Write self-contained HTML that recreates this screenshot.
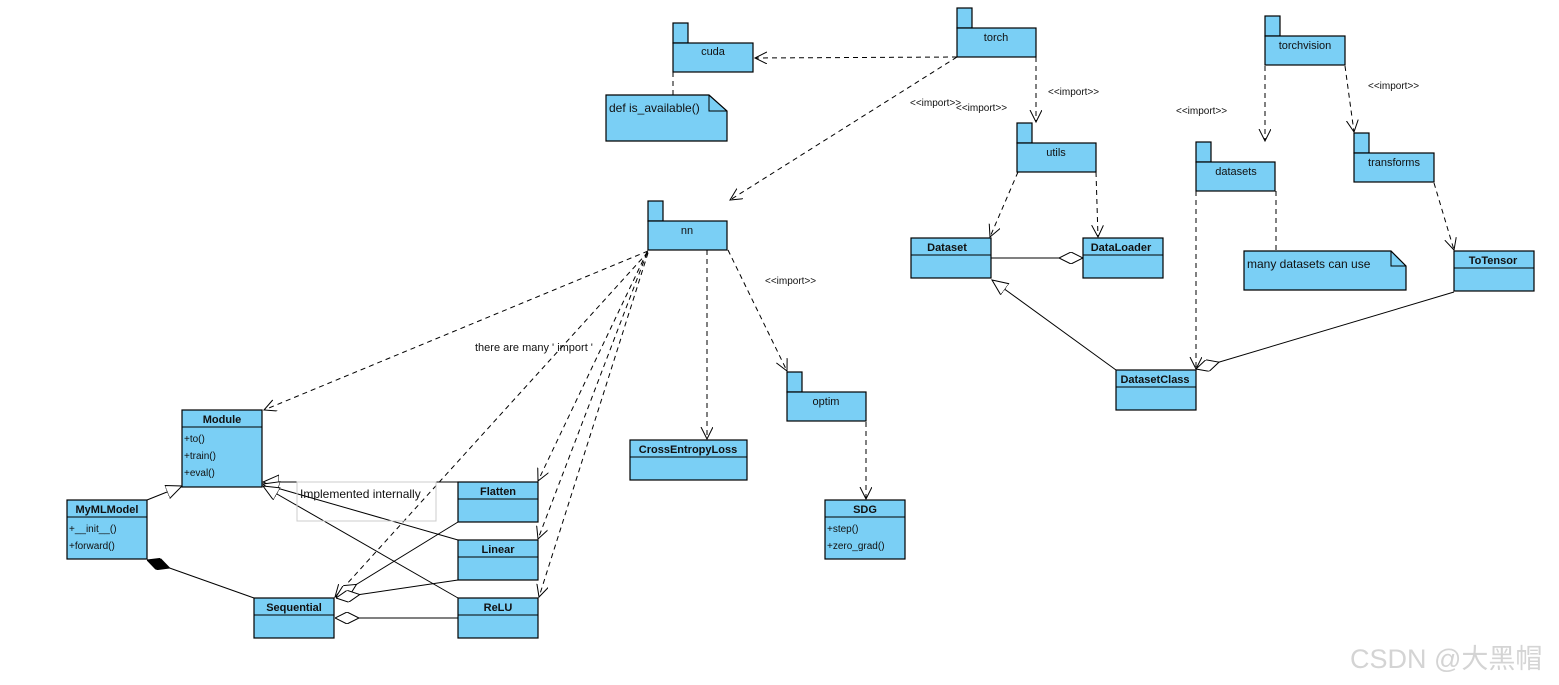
<!DOCTYPE html>
<html><head><meta charset="utf-8"><style>
html,body{margin:0;padding:0;background:#fff;}
svg{display:block;}
text{font-family:"Liberation Sans","DejaVu Sans",sans-serif;fill:#111;}
.b{font-weight:bold;font-size:11px;}
.n{font-size:11px;}
.s{font-size:10px;}
.box{fill:#7ACFF5;stroke:#000;stroke-width:1.2;}
.d{fill:none;stroke:#000;stroke-width:1;stroke-dasharray:5,4;}
.l{fill:none;stroke:#000;stroke-width:1;}
</style></head><body>
<svg width="1559" height="685" viewBox="0 0 1559 685" xmlns="http://www.w3.org/2000/svg">
<defs>
<marker id="oa" markerWidth="14" markerHeight="14" refX="12" refY="6" orient="auto" markerUnits="userSpaceOnUse"><path d="M0,0 L12,6 L0,12" fill="none" stroke="#000" stroke-width="1"/></marker>
<marker id="tri" markerWidth="18" markerHeight="16" refX="16" refY="7" orient="auto" markerUnits="userSpaceOnUse"><path d="M0,0 L16,7 L0,14 Z" fill="#fff" stroke="#000" stroke-width="1"/></marker>
<marker id="dia" markerWidth="26" markerHeight="12" refX="0" refY="6" orient="auto" markerUnits="userSpaceOnUse"><path d="M0,6 L12,0 L24,6 L12,12 Z" fill="#fff" stroke="#000" stroke-width="1"/></marker>
<marker id="fdia" markerWidth="26" markerHeight="12" refX="0" refY="6" orient="auto" markerUnits="userSpaceOnUse"><path d="M0,6 L12,0 L24,6 L12,12 Z" fill="#000" stroke="#000" stroke-width="1"/></marker>
</defs>

<!-- edges -->
<line class="d" x1="957" y1="57" x2="755" y2="58" marker-end="url(#oa)"/>
<line class="d" x1="957" y1="57" x2="730" y2="200" marker-end="url(#oa)"/>
<line class="d" x1="1036" y1="57" x2="1036" y2="122" marker-end="url(#oa)"/>
<line class="d" x1="1018" y1="172" x2="990" y2="237" marker-end="url(#oa)"/>
<line class="d" x1="1096" y1="172" x2="1098" y2="237" marker-end="url(#oa)"/>
<line class="d" x1="673" y1="72" x2="673" y2="95"/>
<line class="d" x1="1196" y1="191" x2="1196" y2="369" marker-end="url(#oa)"/>
<line class="d" x1="1276" y1="191" x2="1276" y2="251"/>
<line class="d" x1="1265" y1="66" x2="1265" y2="141" marker-end="url(#oa)"/>
<line class="d" x1="1345" y1="66" x2="1354" y2="132" marker-end="url(#oa)"/>
<line class="d" x1="1434" y1="183" x2="1454" y2="250" marker-end="url(#oa)"/>
<line class="d" x1="707" y1="250" x2="707" y2="439" marker-end="url(#oa)"/>
<line class="d" x1="728" y1="250" x2="787" y2="371" marker-end="url(#oa)"/>
<line class="d" x1="866" y1="422" x2="866" y2="499" marker-end="url(#oa)"/>
<line class="d" x1="648" y1="251" x2="264" y2="410" marker-end="url(#oa)"/>
<line class="d" x1="648" y1="252" x2="335" y2="597" marker-end="url(#oa)"/>
<line class="d" x1="647" y1="252" x2="538" y2="481" marker-end="url(#oa)"/>
<line class="d" x1="647" y1="253" x2="538" y2="539" marker-end="url(#oa)"/>
<line class="d" x1="648" y1="253" x2="539" y2="597" marker-end="url(#oa)"/>

<line class="l" x1="1083" y1="258" x2="991" y2="258" marker-start="url(#dia)"/>
<line class="l" x1="1116" y1="370" x2="992" y2="280" marker-end="url(#tri)"/>
<line class="l" x1="1196" y1="369" x2="1454" y2="292" marker-start="url(#dia)"/>

<line class="l" x1="147" y1="500" x2="182" y2="486" marker-end="url(#tri)"/>
<line class="l" x1="458" y1="482" x2="263" y2="482" marker-end="url(#tri)"/>
<line class="l" x1="458" y1="540" x2="263" y2="484" marker-end="url(#tri)"/>
<line class="l" x1="458" y1="598" x2="263" y2="486" marker-end="url(#tri)"/>
<line class="l" x1="147" y1="560" x2="254" y2="598" marker-start="url(#fdia)"/>
<line class="l" x1="336" y1="597" x2="458" y2="522" marker-start="url(#dia)"/>
<line class="l" x1="336" y1="598" x2="458" y2="580" marker-start="url(#dia)"/>
<line class="l" x1="335" y1="618" x2="458" y2="618" marker-start="url(#dia)"/>

<!-- packages -->
<g>
<rect class="box" x="673" y="23" width="15" height="20"/><rect class="box" x="673" y="43" width="80" height="29"/><text class="n" x="713" y="55" text-anchor="middle">cuda</text>
<rect class="box" x="957" y="8" width="15" height="20"/><rect class="box" x="957" y="28" width="79" height="29"/><text class="n" x="996" y="41" text-anchor="middle">torch</text>
<rect class="box" x="1017" y="123" width="15" height="20"/><rect class="box" x="1017" y="143" width="79" height="29"/><text class="n" x="1056" y="156" text-anchor="middle">utils</text>
<rect class="box" x="648" y="201" width="15" height="20"/><rect class="box" x="648" y="221" width="79" height="29"/><text class="n" x="687" y="234" text-anchor="middle">nn</text>
<rect class="box" x="1265" y="16" width="15" height="20"/><rect class="box" x="1265" y="36" width="80" height="29"/><text class="n" x="1305" y="49" text-anchor="middle">torchvision</text>
<rect class="box" x="1196" y="142" width="15" height="20"/><rect class="box" x="1196" y="162" width="79" height="29"/><text class="n" x="1236" y="175" text-anchor="middle">datasets</text>
<rect class="box" x="1354" y="133" width="15" height="20"/><rect class="box" x="1354" y="153" width="80" height="29"/><text class="n" x="1394" y="166" text-anchor="middle">transforms</text>
<rect class="box" x="787" y="372" width="15" height="20"/><rect class="box" x="787" y="392" width="79" height="29"/><text class="n" x="826" y="405" text-anchor="middle">optim</text>
</g>

<!-- notes -->
<path class="box" d="M606,95 L709,95 L727,111 L727,141 L606,141 Z"/><path class="l" d="M709,95 L709,111 L727,111"/>
<text class="n" x="609" y="112" style="font-size:12px">def is_available()</text>
<path class="box" d="M1244,251 L1391,251 L1406,266 L1406,290 L1244,290 Z"/><path class="l" d="M1391,251 L1391,266 L1406,266"/>
<text class="n" x="1247" y="268" style="font-size:12px">many datasets can use</text>

<rect x="297" y="482" width="139" height="39" fill="none" stroke="#ccc" stroke-width="1"/>
<text class="n" x="300" y="498" style="font-size:12px">Implemented internally</text>

<!-- classes -->
<g>
<rect class="box" x="182" y="410" width="80" height="77"/><line class="l" x1="182" y1="427" x2="262" y2="427"/>
<text class="b" x="222" y="423" text-anchor="middle">Module</text>
<text class="s" x="184" y="442">+to()</text><text class="s" x="184" y="459">+train()</text><text class="s" x="184" y="476">+eval()</text>

<rect class="box" x="67" y="500" width="80" height="59"/><line class="l" x1="67" y1="517" x2="147" y2="517"/>
<text class="b" x="107" y="513" text-anchor="middle">MyMLModel</text>
<text class="s" x="69" y="532">+__init__()</text><text class="s" x="69" y="549">+forward()</text>

<rect class="box" x="458" y="482" width="80" height="40"/><line class="l" x1="458" y1="499" x2="538" y2="499"/><text class="b" x="498" y="495" text-anchor="middle">Flatten</text>
<rect class="box" x="458" y="540" width="80" height="40"/><line class="l" x1="458" y1="557" x2="538" y2="557"/><text class="b" x="498" y="553" text-anchor="middle">Linear</text>
<rect class="box" x="458" y="598" width="80" height="40"/><line class="l" x1="458" y1="615" x2="538" y2="615"/><text class="b" x="498" y="611" text-anchor="middle">ReLU</text>
<rect class="box" x="254" y="598" width="80" height="40"/><line class="l" x1="254" y1="615" x2="334" y2="615"/><text class="b" x="294" y="611" text-anchor="middle">Sequential</text>
<rect class="box" x="630" y="440" width="117" height="40"/><line class="l" x1="630" y1="457" x2="747" y2="457"/><text class="b" x="688" y="453" text-anchor="middle">CrossEntropyLoss</text>

<rect class="box" x="825" y="500" width="80" height="59"/><line class="l" x1="825" y1="517" x2="905" y2="517"/>
<text class="b" x="865" y="513" text-anchor="middle">SDG</text>
<text class="s" x="827" y="532">+step()</text><text class="s" x="827" y="549">+zero_grad()</text>

<rect class="box" x="911" y="238" width="80" height="40"/><line class="l" x1="911" y1="255" x2="991" y2="255"/><text class="b" x="947" y="251" text-anchor="middle">Dataset</text>
<rect class="box" x="1083" y="238" width="80" height="40"/><line class="l" x1="1083" y1="255" x2="1163" y2="255"/><text class="b" x="1121" y="251" text-anchor="middle">DataLoader</text>
<rect class="box" x="1454" y="251" width="80" height="40"/><line class="l" x1="1454" y1="268" x2="1534" y2="268"/><text class="b" x="1493" y="264" text-anchor="middle">ToTensor</text>
<rect class="box" x="1116" y="370" width="80" height="40"/><line class="l" x1="1116" y1="387" x2="1196" y2="387"/><text class="b" x="1155" y="383" text-anchor="middle">DatasetClass</text>
</g>

<!-- labels -->
<text class="s" x="910" y="106">&lt;&lt;import&gt;&gt;</text>
<text class="s" x="956" y="111">&lt;&lt;import&gt;&gt;</text>
<text class="s" x="1048" y="95">&lt;&lt;import&gt;&gt;</text>
<text class="s" x="1176" y="114">&lt;&lt;import&gt;&gt;</text>
<text class="s" x="1368" y="89">&lt;&lt;import&gt;&gt;</text>
<text class="s" x="765" y="284">&lt;&lt;import&gt;&gt;</text>
<text class="n" x="475" y="351">there are many ' import '</text>

<text x="1350" y="668" style="font-family:'Liberation Sans','Noto Sans CJK SC',sans-serif;font-size:27px;fill:#d4d4d4">CSDN @大黑帽</text>
</svg>
</body></html>
